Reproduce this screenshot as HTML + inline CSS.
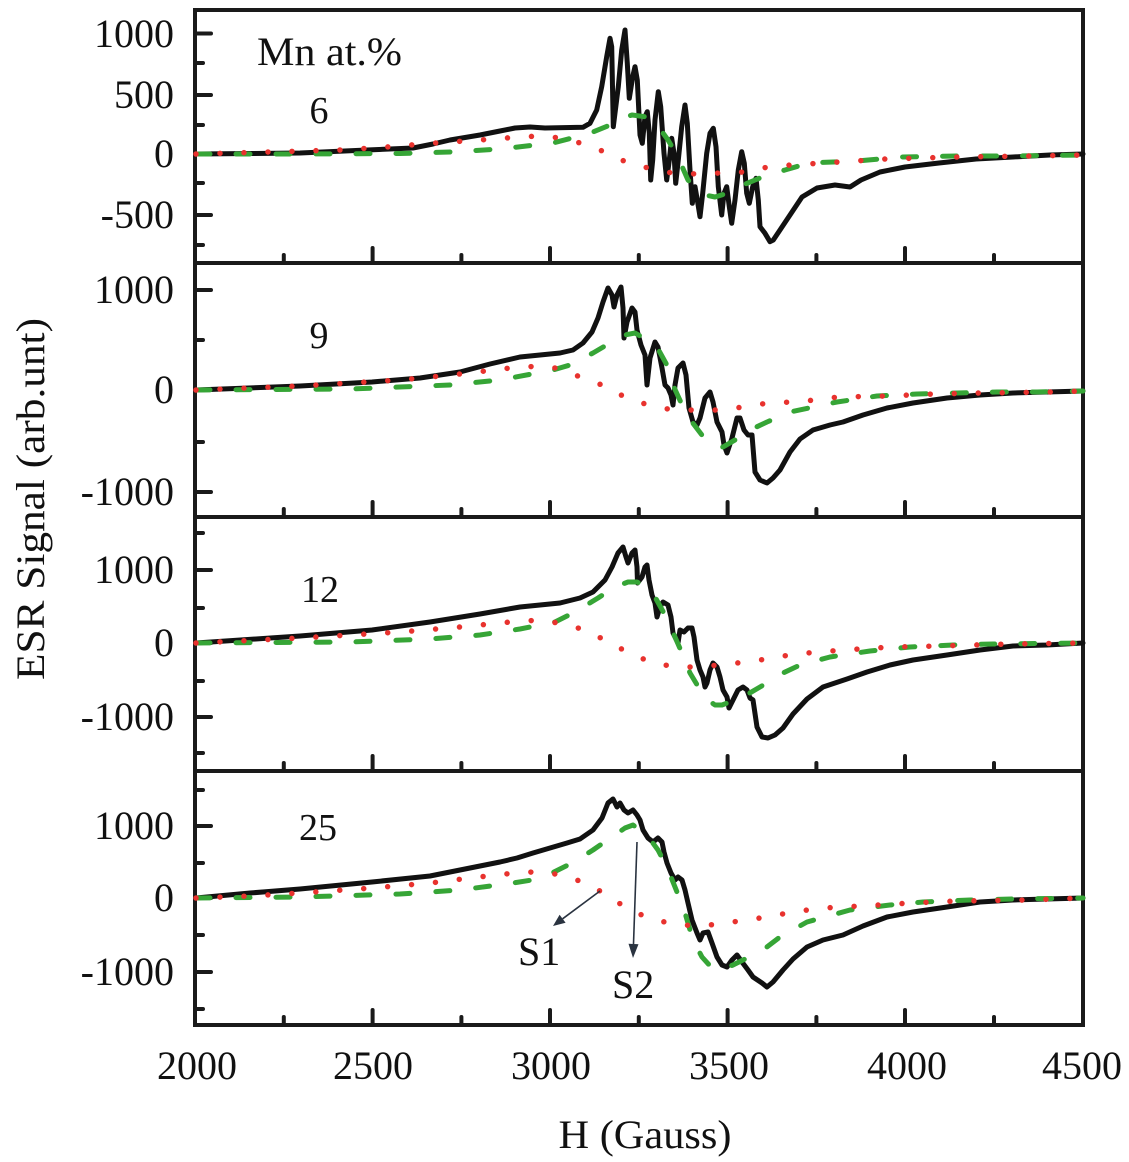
<!DOCTYPE html>
<html><head><meta charset="utf-8"><style>
html,body{margin:0;padding:0;background:#fff;}
svg{display:block;}
text{font-family:"Liberation Serif","Times New Roman",serif;fill:#111;}
</style></head><body>
<svg width="1129" height="1162" viewBox="0 0 1129 1162" xmlns="http://www.w3.org/2000/svg" font-family="Liberation Serif, serif">
<rect x="0" y="0" width="1129" height="1162" fill="#fff"/>

<!-- ticks -->
<g stroke="#1a1a1a" stroke-width="4" stroke-linecap="round" fill="none">
<path d="M372.6,263v-15M550,263v-15M727.6,263v-15M905,263v-15M283.8,263v-8M461.4,263v-8M638.8,263v-8M816.4,263v-8M994,263v-8"/>
<path d="M372.6,517v-15M550,517v-15M727.6,517v-15M905,517v-15M283.8,517v-8M461.4,517v-8M638.8,517v-8M816.4,517v-8M994,517v-8"/>
<path d="M372.6,771v-15M550,771v-15M727.6,771v-15M905,771v-15M283.8,771v-8M461.4,771v-8M638.8,771v-8M816.4,771v-8M994,771v-8"/>
<path d="M372.6,1025v-15M550,1025v-15M727.6,1025v-15M905,1025v-15M283.8,1025v-8M461.4,1025v-8M638.8,1025v-8M816.4,1025v-8M994,1025v-8"/>
<path d="M195,33.5h16M195,95h16M195,154h16M195,215h16M195,63h8M195,125h8M195,183h8M195,245h8"/>
<path d="M195,290h16M195,390h16M195,492h16M195,340h8M195,442h8"/>
<path d="M195,570h16M195,643h16M195,717h16M195,533h8M195,608h8M195,681h8M195,753h8"/>
<path d="M195,826h16M195,898h16M195,972h16M195,790h8M195,863h8M195,935h8M195,1009h8"/>
</g>

<!-- frame -->
<g stroke="#1a1a1a" stroke-width="4" fill="none">
<rect x="195" y="10" width="888" height="1015"/>
<path d="M195,263H1083M195,517H1083M195,771H1083"/>
</g>

<!-- curves -->
<g fill="none" stroke-linejoin="round">
<g stroke="#111" stroke-width="5" stroke-linecap="round">
<polyline points="196,154 250,153.5 300,153 367,150 413,148 433,144 450,140 480,135 500,131 515,128 530,127 545,128 583,127.3 590,123.3 596.7,110 601.7,86.7 606.7,56.7 610,38.3 611.7,46.7 613.3,126.7 618.3,86.7 621.7,50 625,30 627.3,63.3 629.3,98.3 632.7,76.7 635,66.7 637.3,80 640,135 642.3,143.3 645,116.7 647.3,111.7 649.3,133.3 650.7,180 652.7,160 655,120 658.3,91.7 660.7,106.7 664,153.3 666.7,180 669.3,160 671.7,138.3 674,153.3 675.7,183.3 678.3,160 681.7,126.7 685,105 687.3,123.3 690,170 692.3,203.3 695,186.7 697.3,200 700,216.7 702.7,193.3 706.7,153.3 710,133.3 713.3,128.3 716,146.7 718.3,186.7 721.7,215 724,193.3 726.7,186.7 729.3,206.7 731.7,223.3 735,200 738.3,170 741.7,151.7 744.3,163.3 746.7,193.3 749.3,203.3 752.7,186.7 756,178.3 758.3,200 760,226.7 765,233.3 770,241.7 773.3,240 780,230 790,215 802,197 817,188 835,185 850,187 861,180 880,172 905,167 939,163 976,159 1013,157 1050,155 1083,154"/>
<polyline points="196,390 300,386 372,382 420,378 460,372 490,364 520,357 540,355 560,353 573,350 583,343 592,332 598,318 603,302 608,288 612,295 614,307 617,295 621,287 623,308 624,338 627,322 632,308 635,312 637,330 641,345 645,355 647,385 650,358 655,342 658,347 662,368 665,385 668,388 671,395 673,405 675,385 678,368 683,363 686,375 689,408 693,422 697,425 700,418 705,398 710,392 713,402 717,422 722,432 724,445 727,453 732,438 737,418 740,418 744,430 748,435 752,435 755,472 760,480 767,483 773,478 780,470 790,452 800,439 813,430 830,425 843,422 863,415 887,408 913,403 947,398 980,395 1013,393 1047,392 1083,391"/>
<polyline points="196,643 300,636 372,630 430,622 480,614 520,607 540,605 560,603 580,598 593,592 605,580 612,567 618,553 623,547 626,557 628,563 632,553 635,550 637,567 637.5,583 642,577 645,567 647,565 649,580 652,595 655,603 657,617 660,607 663,602 668,605 671,617 673,633 675,637 678,643 680,630 684,632 688,628 692,628 694,637 697,660 700,670 703,677 705,687 707,683 710,670 713,663 717,667 720,677 723,690 727,697 729,708 733,700 738,690 743,687 747,690 750,698 753,700 757,727 762,737 768,738 775,735 783,728 793,714 807,699 823,687 847,679 867,672 890,665 913,660 947,655 980,650 1013,646 1047,645 1083,643"/>
<polyline points="196,898 250,893 300,889 372,882 430,876 470,868 500,862 517,858 533,853 550,848 567,843 580,839 593,830 602,818 608,803 613,799 617,807 620,803 624,810 628,813 633,810 637,815 640,820 643,830 648,838 653,842 658,838 662,842 664,852 667,863 671,873 675,880 678,877 682,880 685,890 688,903 692,920 697,933 700,940 703,933 708,932 712,943 717,957 722,965 727,967 732,960 737,955 742,962 748,970 753,977 762,983 767,987 773,982 783,970 793,959 807,947 823,940 843,935 863,926 887,917 913,912 947,907 980,902 1013,900 1047,899 1083,898"/>
</g>
<g stroke="#36a536" stroke-width="5" stroke-linecap="round" stroke-dasharray="14 26">
<polyline points="196,154 300,154 400,153.5 450,152 500,149 553,143 572,138 593,132 610,125 620,119 632,115 647,117 658,126 668,140 677,155 688,180 698,190 705,195 715,197 728,193 743,185 755,180 767,175 785,170 809,163 857,161 902,157 957,156 1013,156 1083,155"/>
<polyline points="196,390 350,389 450,385 500,380 553,370 570,365 593,353 610,343 625,335 635,333 647,340 657,347 668,367 673,385 683,407 692,422 708,443 718,447 723,447 735,440 750,430 767,422 790,412 837,402 877,396 917,394 957,393 997,392 1037,392 1083,391"/>
<polyline points="196,643 350,642 430,639 480,635 520,629 555,622 575,612 598,598 615,587 628,582 637,582 650,588 655,597 665,615 675,637 682,653 690,673 705,698 715,705 722,705 743,697 760,687 783,673 800,665 830,657 870,651 910,647 953,645 993,644 1083,643"/>
<polyline points="196,898 300,897 400,894 460,890 513,883 532,880 552,873 572,863 593,850 612,837 625,828 633,825 647,835 658,850 667,867 677,892 685,913 693,940 702,957 712,968 720,970 733,965 763,950 780,937 807,922 850,910 890,905 923,902 970,900 1013,899 1083,898"/>
</g>
<g stroke="#e8322e" stroke-width="5.5" stroke-linecap="round" stroke-dasharray="0 24">
<polyline points="196,154 267,152 340,150 387,147 435,143 480,140 520,137 540,136 553,137 577,142 600,150 624,161 648,168 672,173 697,174 720,173 743,172 768,167 791,165 839,162 885,159 957,157 1031,156 1083,155"/>
<polyline points="196,390 300,386 400,380 460,374 510,368 540,366 555,368 575,375 602,385 625,397 648,405 673,410 697,410 720,410 743,407 768,403 792,402 815,400 838,397 887,396 933,394 980,393 1053,392 1083,391"/>
<polyline points="196,643 300,638 400,632 460,627 510,622 540,620 558,623 582,629 605,640 629,653 653,663 677,667 702,667 725,664 748,662 772,658 795,654 819,652 843,650 891,647 938,646 1010,644 1083,643"/>
<polyline points="196,898 250,896 300,893 372,888 430,883 470,878 505,874 530,872 555,874 577,880 602,892 625,907 648,918 673,924 697,926 720,924 745,920 768,917 792,912 815,909 838,907 863,906 910,903 957,901 1028,900 1083,898"/>
</g>
</g>

<!-- arrows -->
<g stroke="#2a3340" stroke-width="1.6" fill="none">
<line x1="600" y1="891" x2="562.6" y2="918.8"/>
<line x1="637" y1="842" x2="633.5" y2="944"/>
</g>
<g fill="#2a3340">
<polygon points="553,926 565.6,922.8 559.6,914.8"/>
<polygon points="633,958 638.5,944.2 628.5,943.8"/>
</g>

<!-- y tick labels -->
<g font-size="40" text-anchor="end" font-family="Liberation Serif, serif">
<text x="174" y="47">1000</text>
<text x="174" y="108">500</text>
<text x="174" y="167">0</text>
<text x="174" y="228">-500</text>
<text x="174" y="303">1000</text>
<text x="174" y="403">0</text>
<text x="174" y="505">-1000</text>
<text x="174" y="583">1000</text>
<text x="174" y="656">0</text>
<text x="174" y="730">-1000</text>
<text x="174" y="839">1000</text>
<text x="174" y="911">0</text>
<text x="174" y="985">-1000</text>
</g>

<!-- x tick labels -->
<g font-size="40" text-anchor="middle" font-family="Liberation Serif, serif">
<text x="197" y="1079">2000</text>
<text x="373" y="1079">2500</text>
<text x="551" y="1079">3000</text>
<text x="729" y="1079">3500</text>
<text x="907" y="1079">4000</text>
<text x="1082" y="1079">4500</text>
</g>

<!-- panel labels -->
<text x="257" y="65" font-size="40" textLength="145" lengthAdjust="spacingAndGlyphs" font-family="Liberation Serif, serif">Mn at.%</text>
<g font-size="38" text-anchor="middle" font-family="Liberation Serif, serif">
<text x="319" y="123">6</text>
<text x="319" y="348">9</text>
<text x="320" y="602">12</text>
<text x="318" y="840">25</text>
</g>
<text x="518" y="965" font-size="40" font-family="Liberation Serif, serif">S1</text>
<text x="612" y="998" font-size="40" font-family="Liberation Serif, serif">S2</text>

<!-- axis titles -->
<text x="645" y="1148" font-size="40" text-anchor="middle" textLength="173" lengthAdjust="spacingAndGlyphs" font-family="Liberation Serif, serif">H (Gauss)</text>
<text transform="translate(44,499) rotate(-90)" font-size="40" text-anchor="middle" textLength="362" lengthAdjust="spacingAndGlyphs" font-family="Liberation Serif, serif">ESR Signal (arb.unt)</text>
</svg>
</body></html>
